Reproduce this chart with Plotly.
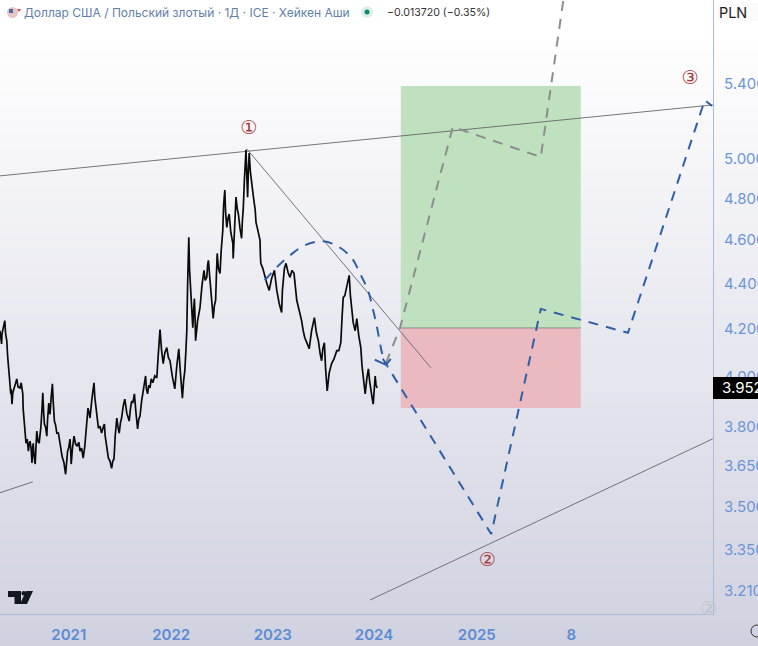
import plotly.graph_objects as go

# ---- data -----------------------------------------------------------------
bars = [0,2,4,5,7,9,12,14,17,19,
        21,24,27,28,30,32,35,38,42,45,
        50,53,57,58,60,62,65,68,71,73,
        75,78,80,81,83,85,88,90,92,95,
        98,100,102,105,107,109,111,114,117,119,
        122,124,125,128,131,133,136,139,142,146,
        150,152,155,160,164,166,169,172,175,177,
        178,181,185,189,193,197,200,204,208,212,
        215,218,220,223,225,230,235,237,240,243,
        246,250,254,258,261,263,265,268,271,275,
        279,282,285,288,292,295,298,301,304,308,
        312,317,323,326,329,332,336,340,344,347,
        350,354,358,361,364,366,369,372,375,378,
        382,387,392,396,400,404,408,412,417,421,
        425,431,437,442,447,451,456,459,462,465,
        467,469,472,474,477,479,482,484,486,488,
        489,494,500,505,510,513,517,519,521,524,
        527,530,533,536,539,541,543,546,550,553,
        557,559,562,564,567,570,573,577,582,583,
        586,590,593,596,600,604,606,608,611,615,
        617,619,621,623,626,629,633,638,640,643,
        646,650,651,652,657,662,667,673,679,686,
        689,692,698,704,706,708,711,715,720,725,
        730,735,738,742,748,754,758,762,767,773,
        779,786,791,796,800,804,807,811,814,818,
        823,829,835,842,847,852,855,858,862,867,
        870,873,876,879,883,888,890,892,897,902,
        905,908,910,913,917,921,924,927,930,933,
        935,938,940,943]
price = [4.192,4.158,4.136,4.179,4.201,4.210,4.236,4.179,4.149,4.086,
         4.053,4.002,3.929,3.949,3.888,3.933,3.953,3.961,3.990,3.957,
         3.953,3.974,3.929,3.868,3.821,3.782,3.735,3.751,3.705,3.732,
         3.743,3.713,3.660,3.705,3.735,3.686,3.656,3.724,3.782,3.743,
         3.735,3.766,3.793,3.868,3.933,3.860,3.809,3.797,3.762,3.829,
         3.892,3.852,3.848,3.916,3.970,3.900,3.821,3.805,3.774,3.774,
         3.743,3.716,3.686,3.660,3.618,3.667,3.705,3.720,3.751,3.697,
         3.656,3.713,3.762,3.732,3.724,3.739,3.705,3.716,3.678,3.724,
         3.770,3.829,3.872,3.852,3.833,3.912,3.974,3.916,3.872,3.821,
         3.793,3.801,3.774,3.797,3.809,3.762,3.743,3.705,3.678,3.667,
         3.640,3.667,3.675,3.762,3.833,3.797,3.774,3.813,3.833,3.880,
         3.908,3.852,3.821,3.868,3.900,3.892,3.929,3.852,3.790,3.829,
         3.840,3.900,3.941,3.982,4.002,3.949,3.929,3.965,3.953,3.990,
         3.974,4.002,3.994,4.098,4.197,4.107,4.053,4.098,4.120,4.078,
         4.065,3.998,3.949,4.044,4.115,4.015,3.912,3.982,4.023,4.115,
         4.192,4.392,4.614,4.460,4.337,4.258,4.205,4.280,4.333,4.227,
         4.149,4.236,4.293,4.392,4.460,4.414,4.428,4.483,4.506,4.437,
         4.369,4.298,4.245,4.302,4.324,4.437,4.538,4.469,4.446,4.552,
         4.647,4.768,4.843,4.734,4.661,4.705,4.725,4.638,4.586,4.515,
         4.671,4.808,4.753,4.725,4.656,4.609,4.695,4.744,4.893,5.047,
         4.918,4.808,4.944,5.031,4.934,4.893,4.818,4.744,4.685,4.661,
         4.633,4.600,4.529,4.492,4.469,4.428,4.401,4.369,4.423,4.460,
         4.401,4.369,4.311,4.271,4.369,4.428,4.469,4.492,4.451,4.428,
         4.460,4.446,4.392,4.324,4.280,4.236,4.192,4.162,4.141,4.115,
         4.192,4.249,4.183,4.149,4.098,4.065,4.115,4.141,4.031,3.941,
         4.015,4.053,4.073,4.107,4.107,4.141,4.245,4.337,4.346,4.383,
         4.414,4.437,4.346,4.293,4.227,4.192,4.227,4.245,4.170,4.120,
         4.044,3.994,3.961,3.929,3.990,4.031,3.982,3.941,3.916,3.888,
         3.949,4.002,3.965,3.953]

year_ticks = [172, 428, 682, 935, 1192, 1428]
year_labels = ["2021", "2022", "2023", "2024", "2025", "8"]
price_ticks = [5.4, 5.0, 4.8, 4.6, 4.4, 4.2, 4.0, 3.8, 3.65, 3.5, 3.35, 3.21]

resist_x, resist_y = [0, 1782], [4.914, 5.285]
decline_x, decline_y = [617, 1077], [5.052, 4.036]
support_x, support_y = [925, 1782], [3.180, 3.752]
support2_x, support2_y = [0, 82], [3.550, 3.590]

pos_x = [1002, 1452]
entry, target, stop = 4.204, 5.389, 3.873

grey_x = [965, 1000, 1132, 1352, 1412]
grey_y = [4.056, 4.204, 5.167, 5.010, 5.946]
arc_x = [662, 692, 725, 762, 808, 845, 880, 900, 920, 930, 940, 948, 955, 965]
arc_y = [4.414, 4.474, 4.529, 4.576, 4.595, 4.571, 4.515, 4.446, 4.369, 4.302, 4.227, 4.159, 4.097, 4.048]
head_x, head_y = [937, 965, 977], [4.069, 4.048, 4.073]
wave_x = [957, 1228, 1352, 1570, 1762, 1780]
wave_y = [4.073, 3.403, 4.287, 4.183, 5.312, 5.279]
mark_x = [622, 1725, 1218]
mark_y = [5.156, 5.428, 3.310]
mark_t = ["①", "③", "②"]
last_price = "3.952"

# ---- layout helpers ---------------------------------------------------------
W, H, PW, PH = 758, 646, 713, 614
fx = lambda v: v / PW
fy = lambda v: 1 - v / PH
BLUE = "#2f5fa6"

fig = go.Figure()
fig.add_trace(go.Scatter(x=pos_x + pos_x[::-1], y=[entry, entry, target, target], fill="toself",
                         fillcolor="#bfe1c0", mode="lines", line_width=0, hoverinfo="skip"))
fig.add_trace(go.Scatter(x=pos_x + pos_x[::-1], y=[stop, stop, entry, entry], fill="toself",
                         fillcolor="#ebb9c0", mode="lines", line_width=0, hoverinfo="skip"))
fig.add_trace(go.Scatter(x=pos_x, y=[entry, entry], mode="lines", line=dict(color="#777", width=0.8)))
for xs, ys in [(resist_x, resist_y), (decline_x, decline_y), (support_x, support_y), (support2_x, support2_y)]:
    fig.add_trace(go.Scatter(x=xs, y=ys, mode="lines", line=dict(color="#666", width=0.9)))
fig.add_trace(go.Scatter(x=bars, y=price, mode="lines", line=dict(color="#0a0a0a", width=1.7)))
fig.add_trace(go.Scatter(x=grey_x, y=grey_y, mode="lines", line=dict(color="#8d8d8d", width=2, dash="10px,8px")))
fig.add_trace(go.Scatter(x=arc_x, y=arc_y, mode="lines", line=dict(color=BLUE, width=2, dash="10px,8px", shape="spline")))
fig.add_trace(go.Scatter(x=head_x, y=head_y, mode="lines", line=dict(color=BLUE, width=2)))
fig.add_trace(go.Scatter(x=wave_x, y=wave_y, mode="lines", line=dict(color=BLUE, width=2, dash="10px,8px")))
fig.add_trace(go.Scatter(x=mark_x, y=mark_y, mode="text", text=mark_t,
                         textfont=dict(color="#a93b3f", size=19, family="DejaVu Sans")))

# background gradient
shapes = []
step = 4
for y in range(0, H, step):
    g = 255 - max(0, y - 30) * 0.074
    r = 255 - max(0, y - 30) * 0.076
    b = 255 - max(0, y - 30) * 0.050
    shapes.append(dict(type="rect", xref="paper", yref="paper", layer="below", line_width=0,
                       x0=0, x1=fx(W), y0=fy(y + step), y1=fy(y), fillcolor=f"rgb({r:.0f},{g:.0f},{b:.0f})"))
def above(**k):
    d = dict(xref="paper", yref="paper", layer="above", line_width=0); d.update(k); shapes.append(d)
def px_rect(kind, x0, y0, x1, y1, **k):
    above(type=kind, x0=fx(x0), x1=fx(x1), y0=fy(y1), y1=fy(y0), **k)

px_rect("rect", 713, 377, 760, 399, fillcolor="#000000")
px_rect("rect", 717, 3, 760, 21, fillcolor="#fbfbfc")
px_rect("circle", 361, 6, 373, 18, fillcolor="#dcefe9")
px_rect("circle", 364.5, 9.5, 369.5, 14.5, fillcolor="#11876f")
# flag
px_rect("circle", 7, 7, 18, 18, fillcolor="#e9c4c4")
px_rect("rect", 9, 9, 13, 13, fillcolor="#4b6aa8")
above(type="path", path=f"M {fx(17)} {fy(9)} L {fx(21)} {fy(9)} L {fx(19)} {fy(12)} Z", fillcolor="#c94a4a")
# logo
logo = "#131722"
def poly(pts):
    return "M " + " L ".join(f"{fx(a)} {fy(b)}" for a, b in pts) + " Z"
above(type="path", path=poly([(8, 591), (21, 591), (21, 604), (14.5, 604), (14.5, 597), (8, 597)]), fillcolor=logo)
above(type="path", path=poly([(26, 591), (33, 591), (27, 604), (20, 604)]), fillcolor=logo)
px_rect("circle", 21.5, 591, 26, 595.5, fillcolor=logo)
above(type="circle", x0=fx(751), x1=fx(763), y0=fy(637), y1=fy(625), fillcolor="rgba(0,0,0,0)",
      line=dict(color="#333", width=1))
shapes[-1].pop("line_width", None)

def note(x, y, text, color, size, **k):
    return dict(xref="paper", yref="paper", x=fx(x), y=fy(y), text=text, showarrow=False, xanchor="left",
                yanchor="middle", font=dict(color=color, size=size, family=k.pop("family", "Inter")), **k)
notes = [
    note(22, 12, "Доллар США / Польский злотый · 1Д · ICE · Хейкен Аши", "#5f7fa9", 12),
    note(385, 12, "−0.013720 (−0.35%)", "#333333", 10.6),
    note(717, 12, "PLN", "#1d1d1f", 14.4),
    note(720, 388, last_price, "#ffffff", 15),
    note(698, 608, "②", "#bfc2cd", 19, family="DejaVu Sans"),
]

fig.update_layout(
    width=W, height=H, margin=dict(l=0, r=W - PW, t=0, b=H - PH, pad=0, autoexpand=False),
    paper_bgcolor="#ffffff", plot_bgcolor="rgba(0,0,0,0)", showlegend=False,
    shapes=shapes, annotations=notes,
    xaxis=dict(range=[0, PW * 2.5], tickmode="array", tickvals=year_ticks, ticktext=year_labels, showgrid=False,
               zeroline=False, showline=True, linecolor="#a9bcdc", linewidth=1, ticks="outside", ticklen=7,
               tickcolor="rgba(0,0,0,0)", tickfont=dict(color="#5b8bd3", size=15, family="Inter", weight=600)),
    yaxis=dict(type="log", range=[0.4962, 0.7698], side="right", tickmode="array", tickvals=price_ticks,
               ticktext=[f"{v:.3f}" for v in price_ticks], showgrid=False, zeroline=False, showline=True,
               linecolor="#a9bcdc", linewidth=1, ticks="outside", ticklen=7, tickcolor="rgba(0,0,0,0)",
               tickfont=dict(color="#6c95d6", size=15, family="Inter")),
)
fig.write_html("out.html", config={"displayModeBar": False},
               post_script="document.body.style.margin='0';document.body.style.overflow='hidden';")
